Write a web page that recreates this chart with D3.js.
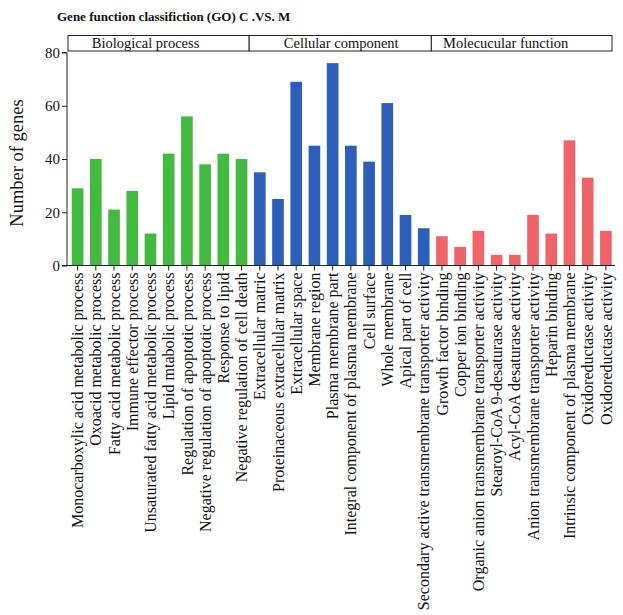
<!DOCTYPE html>
<html>
<head>
<meta charset="utf-8">
<script src="https://cdn.jsdelivr.net/npm/d3@7"></script>
<style>
  html, body { margin: 0; padding: 0; background: #fff; }
  svg text { font-family: "Liberation Serif", "Times New Roman", serif; fill: #111; }
</style>
</head>
<body>
<svg id="chart" width="623" height="615"></svg>
<script>
// GO term categories and gene counts
const bioTerms = [
  "Monocarboxylic acid metabolic process",
  "Oxoacid metabolic process",
  "Fatty acid metabolic process",
  "Immune effector process",
  "Unsaturated fatty acid metabolic process",
  "Lipid mtabolic process",
  "Regulation of apoptotic process",
  "Negative regulation of apoptotic process",
  "Response to lipid",
  "Negative regulation of cell death"
];
const bioCounts = [29, 40, 21, 28, 12, 42, 56, 38, 42, 40];

const cellTerms = [
  "Extracellular matric",
  "Proteinaceous extracellular matrix",
  "Extracellular space",
  "Membrane region",
  "Plasma membrane part",
  "Integral component of plasma membrane",
  "Cell surface",
  "Whole membrane",
  "Apical part of cell",
  "Secondary active transmembrane transporter activity"
];
const cellCounts = [35, 25, 69, 45, 76, 45, 39, 61, 19, 14];

const molTerms = [
  "Growth factor binding",
  "Copper ion binding",
  "Organic anion transmembrane transporter activity",
  "Stearoyl-CoA 9-desaturase activity",
  "Acyl-CoA desaturase activity",
  "Anion transmembrane transporter activity",
  "Heparin binding",
  "Intrinsic component of plasma membrane",
  "Oxidoreductase activity",
  "Oxidoreductase activity"
];
const molCounts = [11, 7, 13, 4, 4, 19, 12, 47, 33, 13];

const groupNames = ["Biological process", "Cellular component", "Molecucular function"];
const groupColors = ["#41ba3f", "#2b5fb9", "#ef6468"];
const yTicks = [0, 20, 40, 60, 80];

const groups = [
  { name: groupNames[0], terms: bioTerms, counts: bioCounts, color: groupColors[0] },
  { name: groupNames[1], terms: cellTerms, counts: cellCounts, color: groupColors[1] },
  { name: groupNames[2], terms: molTerms, counts: molCounts, color: groupColors[2] }
];

// flatten into one row per bar; index keeps duplicate term names distinct
const rows = [];
groups.forEach((g, gi) => g.terms.forEach((t, i) => {
  rows.push({ key: rows.length, term: t, value: g.counts[i], group: gi, color: g.color });
}));

const svg = d3.select("#chart");
const plotLeft = 67, plotRight = 615, plotTop = 52.5, plotBottom = 265.5;
const serif = "'Liberation Serif', 'Times New Roman', serif";
// horizontal nudge of each header label from its box centre
const headerShift = [-13, 1, -16];

const x = d3.scaleBand()
  .domain(rows.map(d => d.key))
  .range([plotLeft + 1.5, plotRight])
  .paddingInner(0.36)
  .paddingOuter(0.18);

const y = d3.scaleLinear().domain([0, 80]).range([plotBottom, plotTop]);

// title
svg.append("text")
  .attr("x", 57).attr("y", 21)
  .style("font-weight", "bold").style("font-size", "13px")
  .text("Gene function classifiction (GO)  C .VS. M");

// bars
svg.append("g").selectAll("rect")
  .data(rows).join("rect")
  .attr("x", d => x(d.key))
  .attr("width", x.bandwidth())
  .attr("y", d => y(d.value))
  .attr("height", d => y(0) - y(d.value))
  .attr("fill", d => d.color);

// group header boxes
const step = x.step();
groups.forEach((g, gi) => {
  const first = rows.find(r => r.group === gi).key;
  const last = first + g.terms.length - 1;
  const x0 = gi === 0 ? plotLeft + 1 : x(first) - step * x.paddingInner() / 2 - 1.5;
  const x1 = gi === 2 ? plotRight - 3 : x(last) + x.bandwidth() + step * x.paddingInner() / 2 - 1.5;
  svg.append("rect")
    .attr("x", x0).attr("y", 35.5)
    .attr("width", x1 - x0).attr("height", 15.5)
    .attr("fill", "#fff").attr("stroke", "#222").attr("stroke-width", 1);
  svg.append("text")
    .attr("x", (x0 + x1) / 2 + headerShift[gi]).attr("y", 48)
    .attr("text-anchor", "middle").style("font-size", "14.5px")
    .text(g.name);
});

// y axis
const yAxis = svg.append("g")
  .attr("transform", `translate(${plotLeft},0)`)
  .call(d3.axisLeft(y).tickValues(yTicks).tickSize(5).tickPadding(2));
yAxis.attr("font-family", null);
yAxis.select(".domain").attr("stroke", "#222").attr("d", `M-5,${plotTop}H0V${plotBottom}H-5`);
yAxis.selectAll(".tick line").attr("stroke", "#222");
yAxis.selectAll(".tick text")
  .style("font-size", "15px").style("font-family", serif).attr("fill", "#111");

// x axis with rotated term labels
const xAxis = svg.append("g")
  .attr("transform", `translate(0,${plotBottom})`)
  .call(d3.axisBottom(x).tickSize(5).tickFormat(k => rows[k].term));
xAxis.attr("font-family", null);
xAxis.select(".domain").attr("stroke", "#222").attr("d", `M${plotLeft},0H${plotRight}`);
xAxis.selectAll(".tick line").attr("stroke", "#222");
xAxis.selectAll(".tick text")
  .style("font-size", "16px").style("font-family", serif).attr("fill", "#111")
  .attr("text-anchor", "end")
  .attr("transform", "rotate(-90)")
  .attr("x", -7).attr("y", 0).attr("dy", "0.35em");

// y axis title
svg.append("text")
  .attr("transform", `translate(23,${(plotTop + plotBottom) / 2 + 4}) rotate(-90)`)
  .attr("text-anchor", "middle").style("font-size", "18.5px")
  .text("Number of genes");
</script>
</body>
</html>
